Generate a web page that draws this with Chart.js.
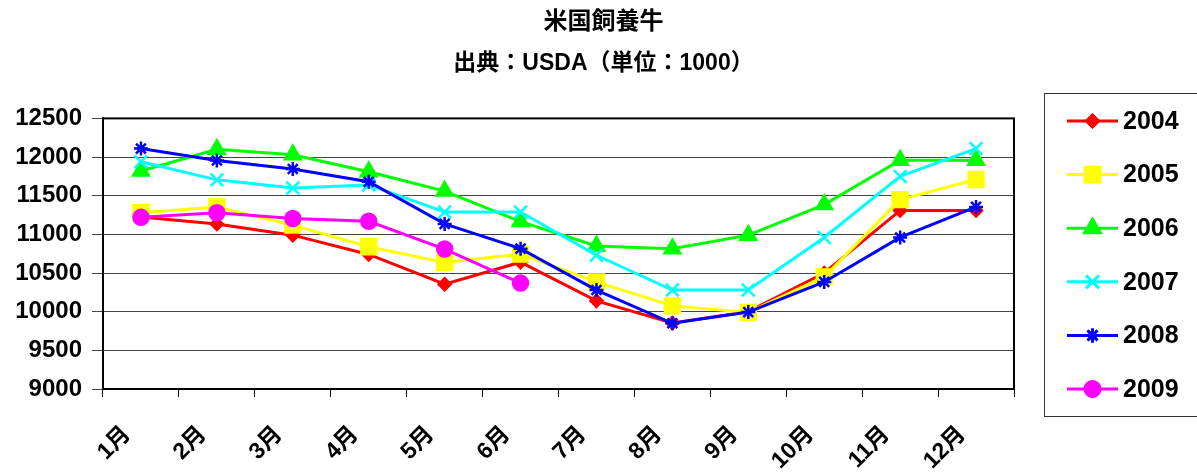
<!DOCTYPE html>
<html lang="ja">
<head>
<meta charset="UTF-8">
<title>米国飼養牛</title>
<script src="https://cdn.jsdelivr.net/npm/chart.js@4"></script>
<style>
  html, body { margin: 0; padding: 0; background: #fff; }
  #wrap { width: 1197px; height: 474px; }
</style>
</head>
<body>
<div id="wrap"><canvas id="cattle"></canvas></div>
<script>
// ---- data ----
const months = ['1月', '2月', '3月', '4月', '5月', '6月', '7月', '8月', '9月', '10月', '11月', '12月'];
const yTicks = [9000, 9500, 10000, 10500, 11000, 11500, 12000, 12500];

const y2004 = [11225, 11135, 10990, 10740, 10355, 10640, 10140, 9855, 10000, 10500, 11310, 11310];
const y2005 = [11280, 11355, 11120, 10840, 10635, 10745, 10385, 10075, 9990, 10450, 11450, 11710];
const y2006 = [11820, 12100, 12030, 11810, 11560, 11165, 10850, 10815, 10990, 11385, 11960, 11960];
const y2007 = [11940, 11705, 11600, 11640, 11290, 11290, 10730, 10280, 10280, 10960, 11750, 12110];
const y2008 = [12110, 11955, 11845, 11680, 11135, 10815, 10280, 9850, 9995, 10385, 10960, 11355];
const y2009 = [11220, 11280, 11205, 11170, 10810, 10370];

const FONT = "'Liberation Sans', Arial, 'Noto Sans CJK JP', sans-serif";

function series(label, values, color, style, radius) {
  return {
    label: label,
    data: values,
    borderColor: color,
    backgroundColor: color,
    borderWidth: 3,
    pointStyle: style,
    pointRadius: radius,
    pointHoverRadius: radius,
    pointBorderWidth: 2.5,
    pointBackgroundColor: color,
    pointBorderColor: color,
    tension: 0
  };
}

const datasets = [
  series('2004', y2004, '#ff0000', 'rectRot', 6),
  series('2005', y2005, '#ffff00', 'rect', 10.5),
  series('2006', y2006, '#00ff00', 'triangle', 9),
  series('2007', y2007, '#00ffff', 'crossRot', 9),
  series('2008', y2008, '#0000ff', 'star', 7),
  series('2009', y2009, '#ff00ff', 'circle', 7.5)
];
// later years painted on top
datasets.forEach((d, i) => { d.order = datasets.length - i; });

// frame round the plot area + legend box on the right
const framePlugin = {
  id: 'frame',
  afterDraw(chart) {
    const { ctx, chartArea } = chart;
    ctx.save();
    ctx.strokeStyle = '#000';
    ctx.lineWidth = 2;
    ctx.strokeRect(chartArea.left, chartArea.top, chartArea.right - chartArea.left, chartArea.bottom - chartArea.top);

    // legend
    const boxL = chartArea.right + 30, boxT = 93, boxB = 416;
    ctx.lineWidth = 1;
    ctx.strokeStyle = '#333';
    ctx.strokeRect(boxL + 0.5, boxT + 0.5, chart.width - boxL + 10, boxB - boxT);
    const step = 53.6;
    chart.data.datasets.forEach((ds, i) => {
      const y = 121 + i * step;
      const x0 = boxL + 23, x1 = boxL + 74, xm = (x0 + x1) / 2;
      ctx.strokeStyle = ds.borderColor;
      ctx.lineWidth = 3;
      ctx.beginPath();
      ctx.moveTo(x0, y);
      ctx.lineTo(x1, y);
      ctx.stroke();
      Chart.helpers.drawPoint(ctx, {
        pointStyle: ds.pointStyle,
        radius: ds.pointRadius,
        borderWidth: ds.pointBorderWidth,
        rotation: 0
      }, xm, y);
      ctx.fillStyle = ds.borderColor;
      ctx.strokeStyle = ds.borderColor;
      ctx.lineWidth = ds.pointBorderWidth;
      ctx.fill();
      ctx.stroke();
      ctx.fillStyle = '#000';
      ctx.font = 'bold 25px ' + FONT;
      ctx.textAlign = 'left';
      ctx.textBaseline = 'middle';
      ctx.fillText(ds.label, x1 + 5, y + 1);
    });
    ctx.restore();
  }
};

new Chart(document.getElementById('cattle'), {
  type: 'line',
  data: { labels: months, datasets: datasets },
  plugins: [framePlugin],
  options: {
    responsive: true,
    maintainAspectRatio: false,
    animation: false,
    layout: { padding: { left: 10, right: 0, top: 0, bottom: 0 } },
    plugins: {
      legend: { display: false },
      tooltip: { enabled: false },
      title: {
        display: true,
        text: '米国飼養牛',
        color: '#000',
        font: { family: FONT, size: 24, weight: 'bold' },
        padding: { top: 8, bottom: 13 }
      },
      subtitle: {
        display: true,
        text: '出典：USDA（単位：1000）',
        color: '#000',
        font: { family: FONT, size: 23, weight: 'bold' },
        padding: { top: 0, bottom: 41 }
      }
    },
    scales: {
      x: {
        offset: true,
        grid: { display: true, offset: true, drawOnChartArea: false, drawTicks: true, tickLength: 8, color: '#000', lineWidth: 1 },
        border: { display: true, color: '#000', width: 2 },
        ticks: {
          color: '#000',
          font: { family: FONT, size: 23, weight: 'bold' },
          minRotation: 45,
          maxRotation: 45,
          padding: 24,
          labelOffset: -14
        },
        afterFit(scale) { scale.height = 85; }
      },
      y: {
        min: 9000,
        max: 12500,
        afterBuildTicks(scale) { scale.ticks = yTicks.map(v => ({ value: v })); },
        grid: { color: '#444', lineWidth: 1, tickLength: 11, drawTicks: true },
        border: { display: true, color: '#000', width: 2 },
        ticks: {
          color: '#000',
          font: { family: FONT, size: 24, weight: 'bold' },
          padding: 10,
          callback: v => String(v)
        },
        afterFit(scale) { scale.width = 93; }
      },
      yRight: {
        position: 'right',
        display: true,
        grid: { display: false },
        border: { display: false },
        ticks: { display: false },
        afterFit(scale) { scale.width = 183; }
      }
    }
  }
});
</script>
</body>
</html>
